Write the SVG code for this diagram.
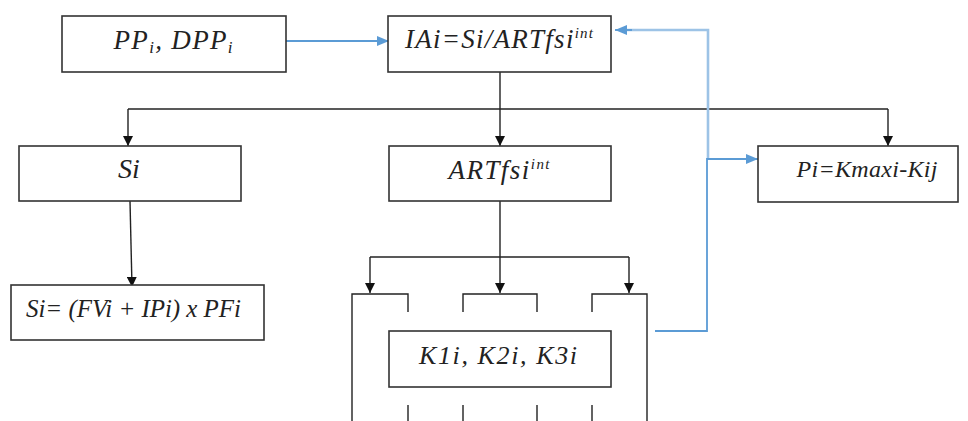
<svg xmlns="http://www.w3.org/2000/svg" width="968" height="421" viewBox="0 0 968 421">
<defs>
<style>
.box{fill:#fff;stroke:#333;stroke-width:1.6}
.t{font-family:"Liberation Serif","Times New Roman",serif;font-style:italic;fill:#222;text-anchor:middle}
.ln{fill:none;stroke:#222;stroke-width:1.4}
.bl{fill:none;stroke:#5B9BD5;stroke-width:1.8}
.bll{fill:none;stroke:#9DC3E6;stroke-width:2.6}
</style>
<marker id="ah" markerWidth="10" markerHeight="10" refX="10" refY="5" orient="auto" markerUnits="userSpaceOnUse"><path d="M0,0 L10,5 L0,10 Z" fill="#111"/></marker>
<marker id="bh" markerWidth="12" markerHeight="10" refX="12" refY="5" orient="auto" markerUnits="userSpaceOnUse"><path d="M0,0 L12,5 L0,10 Z" fill="#5B9BD5"/></marker>
</defs>
<g id="connectors">
<path class="ln" d="M500,72 V109"/>
<path class="ln" d="M128,109 H888"/>
<path class="ln" d="M128,109 V146" marker-end="url(#ah)"/>
<path class="ln" d="M500,109 V146" marker-end="url(#ah)"/>
<path class="ln" d="M888,109 V146" marker-end="url(#ah)"/>
<path class="ln" d="M130,201 L132,287" marker-end="url(#ah)"/>
<path class="ln" d="M500,201 V293" marker-end="url(#ah)"/>
<path class="ln" d="M370,257 H629"/>
<path class="ln" d="M370,257 V293" marker-end="url(#ah)"/>
<path class="ln" d="M629,257 V293" marker-end="url(#ah)"/>
<path class="ln" d="M352,421 V294 H408 V312"/>
<path class="ln" d="M463,312 V294 H537 V312"/>
<path class="ln" d="M592,312 V294 H647 V421"/>
<path class="ln" d="M408,405 V421 M463,405 V421 M537,405 V421 M592,405 V421"/>
<path class="bl" d="M286,41 H389" marker-end="url(#bh)"/>
<path class="bll" d="M708,159 V30 H625"/>
<path class="bl" d="M632,30 H615" marker-end="url(#bh)"/>
<path class="bl" d="M655,331 H707 V159 H758" marker-end="url(#bh)"/>
</g>
<g id="node-pp">
<rect class="box" x="62" y="16" width="224" height="56"/>
<text class="t" x="173" y="49" font-size="27" textLength="119" lengthAdjust="spacing">PP<tspan font-size="17" dy="4">i</tspan><tspan dy="-4">, DPP</tspan><tspan font-size="17" dy="4">i</tspan></text>
</g>
<g id="node-iai">
<rect class="box" x="388" y="16" width="223" height="56"/>
<text class="t" x="499" y="48" font-size="27" textLength="188" lengthAdjust="spacing">IAi=Si/ARTfsi<tspan font-size="15" dy="-10">int</tspan></text>
</g>
<g id="node-si">
<rect class="box" x="19" y="146" width="222" height="55"/>
<text class="t" x="129" y="178" font-size="28">Si</text>
</g>
<g id="node-artfsi">
<rect class="box" x="389" y="146" width="222" height="55"/>
<text class="t" x="499" y="179" font-size="27" textLength="101" lengthAdjust="spacing">ARTfsi<tspan font-size="15" dy="-10">int</tspan></text>
</g>
<g id="node-pi">
<rect class="box" x="758" y="146" width="200" height="56"/>
<text class="t" x="867" y="177" font-size="24" textLength="141" lengthAdjust="spacing">Pi=Kmaxi-Kij</text>
</g>
<g id="node-siformula">
<rect class="box" x="11" y="285" width="253" height="55"/>
<text class="t" x="26" y="317" font-size="25" style="text-anchor:start" textLength="215" lengthAdjust="spacing">Si= (FVi + IPi) x PFi</text>
</g>
<g id="node-k">
<rect class="box" x="389" y="331" width="222" height="56"/>
<text class="t" x="498" y="364" font-size="26" textLength="158" lengthAdjust="spacing">K1i, K2i, K3i</text>
</g>
</svg>
